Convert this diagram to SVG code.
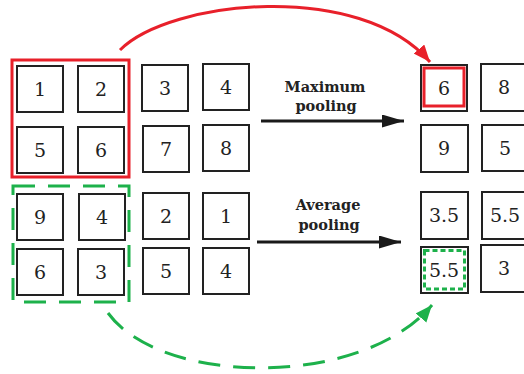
<svg xmlns="http://www.w3.org/2000/svg" width="524" height="374" viewBox="0 0 524 374">
<style>
.b{fill:#fff;stroke:#222;stroke-width:2}
.n{font-family:'DejaVu Serif',serif;font-size:19px;fill:#222;text-anchor:middle}
.l{font-family:'DejaVu Serif',serif;font-size:14.5px;font-weight:bold;fill:#222;text-anchor:middle}
</style>
<defs>
<marker id="ar" markerUnits="userSpaceOnUse" markerWidth="20" markerHeight="16" refX="17" refY="7" orient="auto"><path d="M0,0 L17,7 L0,14 Z" fill="#e8202a"/></marker>
<marker id="ag" markerUnits="userSpaceOnUse" markerWidth="20" markerHeight="16" refX="17" refY="7" orient="auto"><path d="M0,0 L17,7 L0,14 Z" fill="#1db14b"/></marker>
<marker id="ak" markerUnits="userSpaceOnUse" markerWidth="24" markerHeight="14" refX="22" refY="6.5" orient="auto"><path d="M0,0 L22,6.5 L0,13 Z" fill="#1a1a1a"/></marker>
</defs>
<g id="input-top">
<rect class="b" x="17" y="66" width="46" height="46"/><text class="n" x="40" y="96">1</text>
<rect class="b" x="78" y="66" width="46" height="46"/><text class="n" x="101" y="96">2</text>
<rect class="b" x="142" y="65" width="46" height="46"/><text class="n" x="165" y="95">3</text>
<rect class="b" x="203" y="64" width="46" height="46"/><text class="n" x="226" y="94">4</text>
<rect class="b" x="17" y="127" width="46" height="46"/><text class="n" x="40" y="157">5</text>
<rect class="b" x="78" y="127" width="46" height="46"/><text class="n" x="101" y="157">6</text>
<rect class="b" x="143" y="126" width="46" height="46"/><text class="n" x="166" y="156">7</text>
<rect class="b" x="203" y="125" width="46" height="46"/><text class="n" x="226" y="155">8</text>
<rect x="12" y="60" width="117" height="117" fill="none" stroke="#e8202a" stroke-width="3"/>
</g>
<g id="input-bottom">
<rect class="b" x="17" y="194" width="46" height="46"/><text class="n" x="40" y="224">9</text>
<rect class="b" x="79" y="194" width="46" height="46"/><text class="n" x="102" y="224">4</text>
<rect class="b" x="143" y="193" width="46" height="46"/><text class="n" x="166" y="223">2</text>
<rect class="b" x="203" y="193" width="46" height="46"/><text class="n" x="226" y="223">1</text>
<rect class="b" x="17" y="249" width="46" height="46"/><text class="n" x="40" y="279">6</text>
<rect class="b" x="78" y="249" width="46" height="46"/><text class="n" x="101" y="279">3</text>
<rect class="b" x="143" y="248" width="46" height="46"/><text class="n" x="166" y="278">5</text>
<rect class="b" x="203" y="248" width="46" height="46"/><text class="n" x="226" y="278">4</text>
<rect x="13" y="186" width="116" height="116" fill="none" stroke="#1db14b" stroke-width="3" stroke-dasharray="22 13"/>
</g>
<g id="output-max">
<rect class="b" x="421" y="65" width="46" height="46"/>
<rect x="424" y="68" width="40" height="38" fill="none" stroke="#e8202a" stroke-width="3"/>
<text class="n" x="444" y="95">6</text>
<rect class="b" x="481" y="64" width="47" height="47"/><text class="n" x="504" y="94">8</text>
<rect class="b" x="421" y="125" width="47" height="47"/><text class="n" x="444" y="155">9</text>
<rect class="b" x="482" y="125" width="47" height="46"/><text class="n" x="505" y="155">5</text>
</g>
<g id="output-avg">
<rect class="b" x="421" y="192" width="47" height="47"/><text class="n" x="444" y="222">3.5</text>
<rect class="b" x="482" y="192" width="47" height="47"/><text class="n" x="505" y="222">5.5</text>
<rect class="b" x="421" y="247" width="47" height="46"/>
<rect x="424.5" y="250.5" width="40" height="38.5" fill="none" stroke="#1db14b" stroke-width="3" stroke-dasharray="5 3"/>
<text class="n" x="444" y="277">5.5</text>
<rect class="b" x="481" y="245" width="47" height="47"/><text class="n" x="504" y="275">3</text>
</g>
<g id="labels">
<text class="l" x="325" y="92">Maximum</text>
<text class="l" x="326" y="111">pooling</text>
<text class="l" x="328" y="210">Average</text>
<text class="l" x="329" y="230">pooling</text>
</g>
<g id="connectors" fill="none">
<path d="M120,50 C170,0 360,-20 430,62" stroke="#e8202a" stroke-width="3" marker-end="url(#ar)"/>
<path d="M108,313 C160,385 360,390 432,305" stroke="#1db14b" stroke-width="3" stroke-dasharray="22 13" marker-end="url(#ag)"/>
<path d="M261,121 L404,121" stroke="#1a1a1a" stroke-width="3" marker-end="url(#ak)"/>
<path d="M257,242 L401,242" stroke="#1a1a1a" stroke-width="3" marker-end="url(#ak)"/>
</g>
</svg>
